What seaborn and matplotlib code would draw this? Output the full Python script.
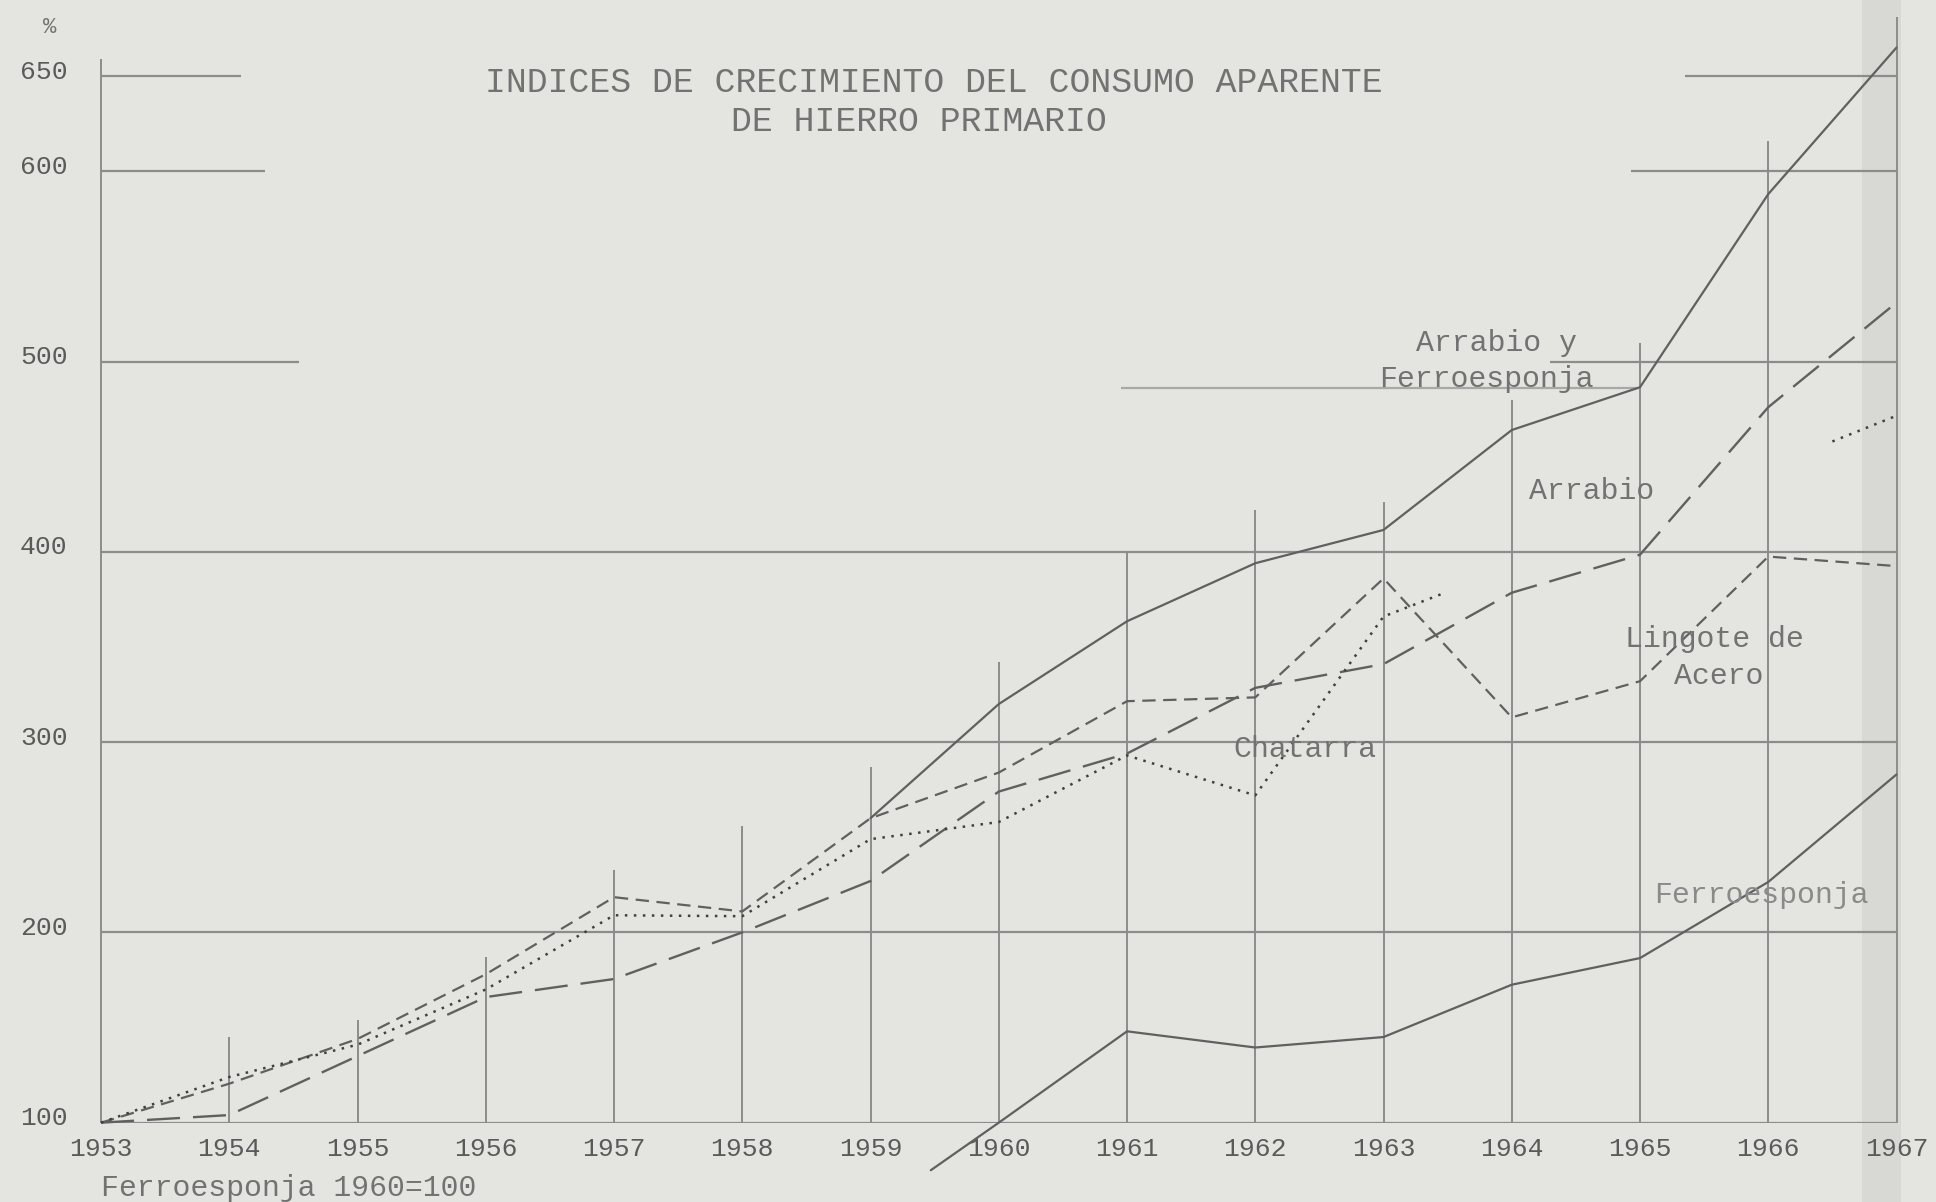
import numpy as np
import pandas as pd
import matplotlib
matplotlib.use("Agg")
import matplotlib.pyplot as plt
import matplotlib.transforms as mtransforms
import seaborn as sns

# ---------------- data ----------------
years = [1953, 1954, 1955, 1956, 1957, 1958, 1959, 1960,
         1961, 1962, 1963, 1964, 1965, 1966, 1967]

arrabio = [100, 104, 135, 166, 175.5, 200, 227, 274,
           294, 328.5, 341, 378.5, 398.5, 476, 531]

lingote = [100, 120.5, 144, 178, 218.5, 211, 260, 284,
           321.5, 323.5, 386, 313, 332, 397.5, 392.5]

chatarra_years = [1953, 1954, 1955, 1956, 1957, 1958, 1959, 1960,
                  1961, 1962, 1963, 1963.46]
chatarra = [100, 124, 141, 170, 209, 208.5, 249, 258,
            293, 272, 366, 378]
chatarra2_years = [1966.5, 1967]
chatarra2 = [458, 471.5]

arr_ferro_years = [1959, 1960, 1961, 1962, 1963, 1964, 1965, 1966, 1967]
arr_ferro = [260, 320, 363.5, 394, 411.5, 464, 486.5, 588, 665]

ferro_years = [1959.47, 1960, 1961, 1962, 1963, 1964, 1965, 1966, 1967]
ferro = [75, 100, 148, 139.5, 145, 172.5, 186.5, 226.5, 283]

ytick_values = [100, 200, 300, 400, 500, 600, 650]
title_lines = ["INDICES DE CRECIMIENTO DEL CONSUMO APARENTE",
               "DE HIERRO PRIMARIO"]

# ---------------- style ----------------
sns.set_theme(style="white")
FONT = ["Liberation Mono", "DejaVu Sans Mono"]
plt.rcParams["font.family"] = FONT

BG = "#e4e4e1"
LINE = "#606060"
GRID = "#8c8c8c"
TXT = "#727272"

fig = plt.figure(figsize=(19.36, 12.02), dpi=100, facecolor=BG)
ax = fig.add_axes([0.0522, 0.066, 0.9274, 0.934])
ax.set_facecolor("none")
ax.set_xlim(1953, 1967)
ax.set_ylim(100, 690)
for s in ax.spines.values():
    s.set_visible(False)

# subtle scan shadow near right edge (behind everything)
fig.patches.append(plt.Rectangle((0.962, 0.0), 0.02, 1.0, transform=fig.transFigure,
                                 facecolor="#d8d8d4", edgecolor="none", zorder=-5))

# ---------------- grid ----------------
vline_tops = [659, 145, 154, 187, 233, 256, 287, 342, 400, 422, 426, 480, 510, 616, 681]
ax.vlines(years, 100, vline_tops, colors=GRID, linewidth=1.4, clip_on=False, zorder=1)

full_h = [100, 200, 300, 400]
ax.hlines(full_h, 1953, 1967, colors=GRID, linewidth=1.6, zorder=1)
h_segments = [(500, 1953, 1954.54), (600, 1953, 1954.28), (650, 1953, 1954.09),
              (500, 1964.3, 1967), (600, 1964.93, 1967), (650, 1965.35, 1967)]
for yv, x0, x1 in h_segments:
    ax.hlines(yv, x0, x1, colors=GRID, linewidth=1.6, zorder=1)
ax.hlines(486, 1960.95, 1965.0, colors="#a8a8a6", linewidth=1.6, zorder=1)

# ---------------- series ----------------
common = dict(ax=ax, estimator=None, errorbar=None, legend=False, zorder=3)
sns.lineplot(x=arr_ferro_years, y=arr_ferro, color=LINE, linewidth=1.6, **common)
sns.lineplot(x=years, y=arrabio, color=LINE, linewidth=1.7,
             linestyle=(0, (14, 5.5)), **common)
sns.lineplot(x=years, y=lingote, color=LINE, linewidth=1.6,
             linestyle=(0, (6, 3.4)), **common)
sns.lineplot(x=chatarra_years, y=chatarra, color="#404040", linewidth=1.8,
             linestyle=(0, (1, 2.6)), **common)
sns.lineplot(x=chatarra2_years, y=chatarra2, color="#404040", linewidth=1.8,
             linestyle=(0, (1, 2.6)), **common)
sns.lineplot(x=ferro_years, y=ferro, color=LINE, linewidth=1.6, **common)
for ln in ax.get_lines():
    ln.set_clip_on(False)

# ---------------- ticks ----------------
ax.set_xticks(years)
ax.set_xticklabels([str(y) for y in years])
ax.set_yticks(ytick_values)
ax.set_yticklabels([str(v) for v in ytick_values])
ax.tick_params(axis="both", length=0, labelsize=19, labelcolor="#5a5a5a")
ax.tick_params(axis="x", pad=10)
ax.tick_params(axis="y", pad=24)
off = mtransforms.ScaledTranslation(0, 7 / 100, fig.dpi_scale_trans)
for lab in ax.get_yticklabels():
    lab.set_transform(lab.get_transform() + off)
ax.set_xlabel("")
ax.set_ylabel("")

# ---------------- texts ----------------
ax.text(1959.49, 646.4, title_lines[0], ha="center", va="center", fontsize=25,
        color=TXT)
ax.text(1959.38, 626.3, title_lines[1], ha="center", va="center", fontsize=25,
        color=TXT)
ax.text(1952.6, 675.6, "%", ha="center", va="center", fontsize=16, color=TXT,
        clip_on=False)

lab_kw = dict(ha="center", va="center", fontsize=21.5, color=TXT, zorder=4)
ax.text(1963.88, 509.5, "Arrabio y", **lab_kw)
ax.text(1963.80, 490.7, "Ferroesponja", **lab_kw)
ax.text(1964.62, 432, "Arrabio", **lab_kw)
ax.text(1965.58, 354.4, "Lingote de", **lab_kw)
ax.text(1965.61, 335, "Acero", **lab_kw)
ax.text(1962.39, 296.6, "Chatarra", **lab_kw)
ax.text(1965.95, 219.4, "Ferroesponja", ha="center", va="center", fontsize=21.5,
        color="#8a8a8a", zorder=4)
ax.text(1953.0, 65.6, "Ferroesponja 1960=100", ha="left", va="center",
        fontsize=21.5, color=TXT, clip_on=False)

fig.savefig("out.png", dpi=100, facecolor=BG)
